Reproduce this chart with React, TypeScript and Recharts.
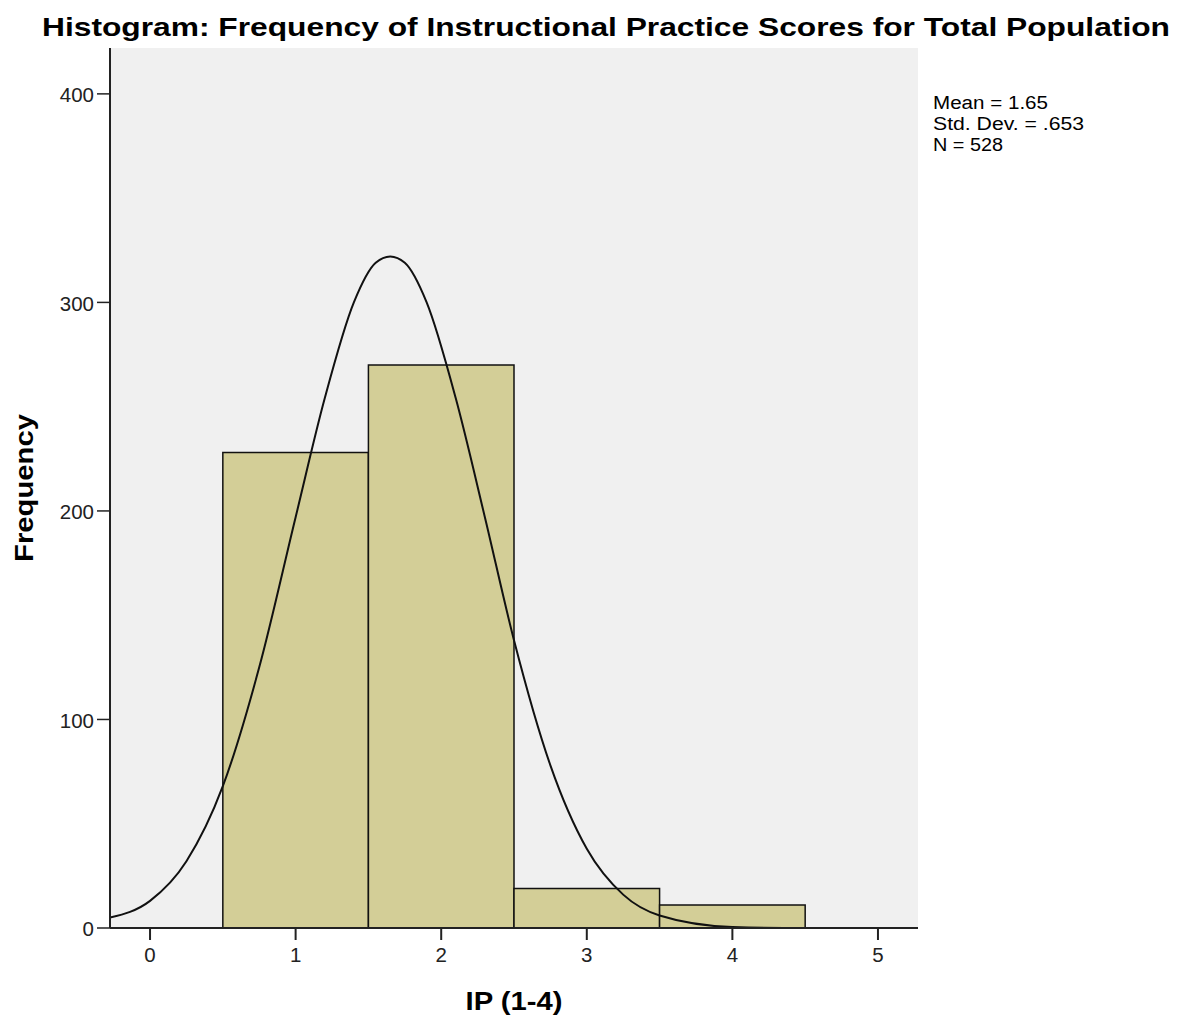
import React from "react";
import {
  ComposedChart,
  Line,
  XAxis,
  YAxis,
  CartesianGrid,
  ReferenceArea,
} from "recharts";

// Histogram bins (lower edge, upper edge, frequency)
const binStarts = [0.5, 1.5, 2.5, 3.5];
const binEnds = [1.5, 2.5, 3.5, 4.5];
const frequencies = [228, 270, 19, 11];

// Normal curve
const curveX = [-0.275, 0, 0.25, 0.5, 0.75, 1.0, 1.2, 1.4, 1.55, 1.65, 1.75, 1.9, 2.1, 2.3, 2.5, 2.75, 3.0, 3.25, 3.5, 4.0, 4.5, 5.275];
const curveY = [5, 13, 32, 68, 125, 197, 254, 300, 319, 322, 319, 300, 254, 197, 138, 78, 38, 16, 6, 0.5, 0, 0];

const xTicks = [0, 1, 2, 3, 4, 5];
const yTicks = [0, 100, 200, 300, 400];
const statsLines = ["Mean = 1.65", "Std. Dev. = .653", "N = 528"];

const title = "Histogram: Frequency of Instructional Practice Scores for Total Population";
const xLabel = "IP (1-4)";
const yLabel = "Frequency";

const data = curveX.map((x, i) => ({ x, y: curveY[i] }));

const FONT = "'Liberation Sans', Arial, sans-serif";

const statsLengths = [115, 151, 70];
const DIGIT_W = 11.4;

const XLabel = (props: any) => {
  const vb = props.viewBox;
  return (
    <text
      x={vb.x + vb.width / 2}
      y={vb.y + 82}
      textAnchor="middle"
      fontFamily={FONT}
      fontWeight="bold"
      fontSize={25}
      fill="#000"
      textLength={97}
      lengthAdjust="spacingAndGlyphs"
    >
      {xLabel}
    </text>
  );
};

const YLabel = (props: any) => {
  const vb = props.viewBox;
  const cx = 33;
  const cy = vb.y + vb.height / 2;
  return (
    <text
      x={cx}
      y={cy}
      transform={`rotate(-90 ${cx} ${cy})`}
      textAnchor="middle"
      fontFamily={FONT}
      fontWeight="bold"
      fontSize={25}
      fill="#000"
      textLength={148}
      lengthAdjust="spacingAndGlyphs"
    >
      {yLabel}
    </text>
  );
};

const XTick = (props: any) => {
  const { x, y, payload } = props;
  const s = String(payload.value);
  return (
    <text x={x} y={y} dy="0.71em" textAnchor="middle" fontFamily={FONT} fontSize={20.5} fill="#222"
      textLength={s.length * DIGIT_W} lengthAdjust="spacingAndGlyphs">
      {s}
    </text>
  );
};

const YTick = (props: any) => {
  const { x, y, payload } = props;
  const s = String(payload.value);
  return (
    <text x={x} y={y} dy="0.4em" textAnchor="end" fontFamily={FONT} fontSize={20.5} fill="#222"
      textLength={s.length * DIGIT_W} lengthAdjust="spacingAndGlyphs">
      {s}
    </text>
  );
};

export default function App() {
  return (
    <div style={{ position: "absolute", left: 0, top: 0, width: 1191, height: 1021, background: "#fff" }}>
      <div style={{ position: "absolute", left: 0, top: 0 }}>
        <ComposedChart
          width={1191}
          height={1021}
          data={data}
          margin={{ top: 48, right: 273, bottom: 53, left: 50 }}
        >
          <CartesianGrid fill="#F0F0F0" horizontal={false} vertical={false} />
          <XAxis
            dataKey="x"
            type="number"
            domain={[-0.275, 5.275]}
            ticks={xTicks}
            allowDataOverflow
            height={40}
            tickSize={12}
            tickMargin={7}
            axisLine={{ stroke: "#222", strokeWidth: 2 }}
            tickLine={{ stroke: "#222", strokeWidth: 2 }}
            tick={<XTick />}
            label={<XLabel />}
          />
          <XAxis xAxisId="top" orientation="top" type="number" domain={[0, 1]} tick={false} tickLine={false} height={0} axisLine={{ stroke: "#333", strokeWidth: 1.5 }} />
          <YAxis
            type="number"
            domain={[0, 422]}
            ticks={yTicks}
            allowDataOverflow
            width={60}
            tickSize={13}
            tickMargin={3}
            axisLine={{ stroke: "#222", strokeWidth: 2 }}
            tickLine={{ stroke: "#222", strokeWidth: 1.5 }}
            tick={<YTick />}
            label={<YLabel />}
          />
          <YAxis yAxisId="right" orientation="right" type="number" domain={[0, 1]} tick={false} tickLine={false} width={0} axisLine={{ stroke: "#333", strokeWidth: 1.5 }} />
          {frequencies.map((f, i) => (
            <ReferenceArea
              key={i}
              x1={binStarts[i]}
              x2={binEnds[i]}
              y1={0}
              y2={f}
              fill="#D3CE97"
              fillOpacity={1}
              stroke="#111"
              strokeWidth={1.5}
              strokeOpacity={1}
            />
          ))}
          <Line
            dataKey="y"
            type="monotone"
            stroke="#111"
            strokeWidth={2}
            dot={false}
            activeDot={false}
            isAnimationActive={false}
          />
        </ComposedChart>
      </div>
      <svg width={1191} height={160} style={{ position: "absolute", left: 0, top: 0, pointerEvents: "none" }}>
        <text
          x={42}
          y={36}
          fontFamily={FONT}
          fontWeight="bold"
          fontSize={25}
          fill="#000"
          textLength={1128}
          lengthAdjust="spacingAndGlyphs"
        >
          {title}
        </text>
        {statsLines.map((s, i) => (
          <text
            key={s}
            x={933}
            y={109 + i * 21}
            fontFamily={FONT}
            fontSize={18}
            fill="#000"
            textLength={statsLengths[i]}
            lengthAdjust="spacingAndGlyphs"
          >
            {s}
          </text>
        ))}
      </svg>
    </div>
  );
}
